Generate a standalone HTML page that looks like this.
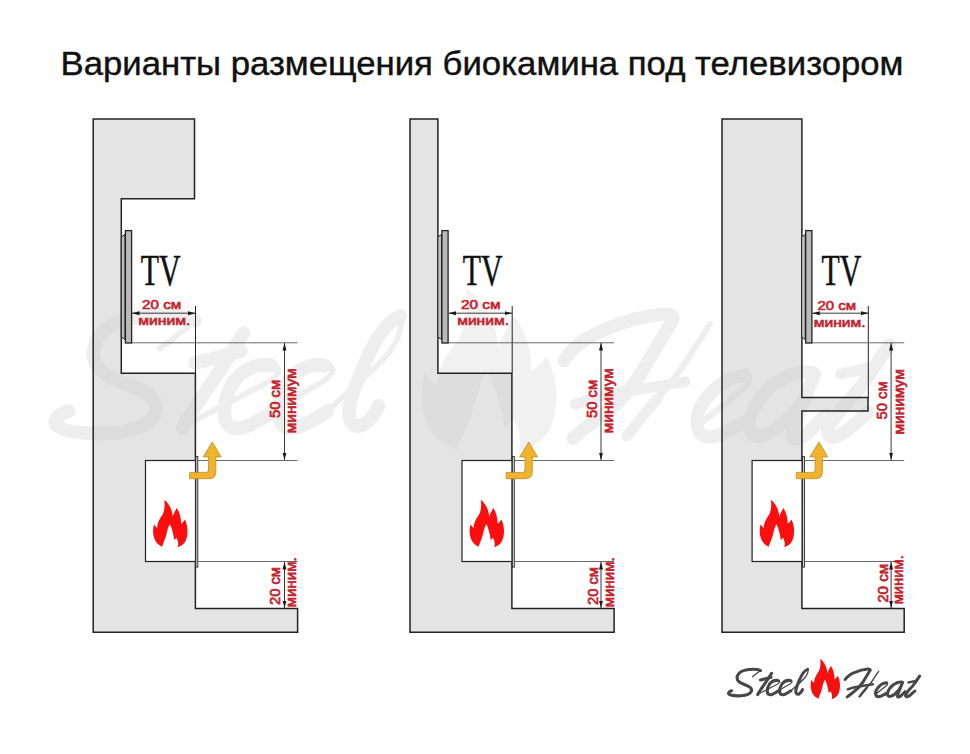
<!DOCTYPE html>
<html><head><meta charset="utf-8">
<style>
html,body{margin:0;padding:0;background:#fff;}
body{width:970px;height:754px;overflow:hidden;position:relative;font-family:"Liberation Sans",sans-serif;}
svg{position:absolute;left:0;top:0;}
.t{font-family:"Liberation Sans",sans-serif;}
.r{font-family:"Liberation Sans",sans-serif;font-weight:normal;fill:#c4222c;stroke:#c4222c;stroke-width:0.65px;font-size:13px;}
.tv{font-family:"Liberation Serif",serif;font-size:44px;fill:#111;stroke:#111;stroke-width:0.5px;}
</style></head>
<body>
<svg width="970" height="754" viewBox="0 0 970 754">
<defs>
 <marker id="ah" viewBox="0 0 10 10" refX="10" refY="5" markerWidth="7.5" markerHeight="7.5" orient="auto-start-reverse" markerUnits="userSpaceOnUse">
  <path d="M0,2.3 L10,5 L0,7.7 Z" fill="#1a1a1a"/>
 </marker>
 <path id="flamep" d="M154,0 C222,52 264,142 270,232 C287,182 312,142 324,112 C367,172 387,252 384,332 C407,312 427,292 437,272 C477,352 487,472 447,562 C422,612 382,637 337,650 C352,612 347,572 322,522 L290,552 C284,492 267,412 232,332 C192,392 192,472 162,542 C147,582 132,622 124,644 C72,622 22,572 7,492 C-3,442 0,382 14,337 C27,362 42,377 57,387 C52,322 92,262 132,202 C157,152 167,72 154,0 Z"/>
 <g id="logoglyphs" fill="none" stroke-linecap="round" stroke-linejoin="round">
 <g stroke-width="3.1">
 <path d="M731.5,690.8 C729.5,691.5 728,692.5 728.6,693.8 C730,695.6 735,696 741,695.8 C746,695.5 750,694 751.3,691.5 C752.3,689 750.5,687 747,685.6 C743,684 739,682.8 737.6,680 C736.6,677.5 737.5,674.5 740,672.4 C743,670 748,669.2 753.5,669.2 C756.5,669.2 758.8,669.6 760.5,670.5"/>
 <path d="M771.6,673.3 C769,677.5 765,683.5 761.8,688 C759.8,691 758.2,693.5 757.7,694.6"/>
 <path d="M760.5,680 C764,679.2 767.5,678.3 771,677.3"/>
 <path d="M778,680.6 C775,679.8 771.5,681.5 769.5,684 C767.8,686.5 767,689.5 767.3,692 C767.6,694.5 769.5,695.2 772,694.4 C774.5,693.6 776.5,692.2 778.5,690.8"/>
 <path d="M790.4,680.6 C787.4,679.8 783.9,681.5 781.9,684 C780.2,686.5 779.4,689.5 779.7,692 C780,694.5 781.9,695.2 784.4,694.4 C786.9,693.6 788.9,692.2 790.9,690.8"/>
 <path d="M807.6,669.4 C804.5,670.5 801.5,675 799.5,680 C797.5,684.5 795.7,688.5 795.8,691.6 C795.9,694 797.5,694.8 799.2,693.8 C800.8,692.8 802,691 802.6,689.6"/>
 </g>
 <g stroke-width="1.3">
 <path d="M760.5,670.5 C758,672.5 755,675 752.4,676.7"/>
 <path d="M757.7,694.6 C763,691.5 770,688 775,685.5 C778,684 780,682.5 779.6,681.3 C779.3,680.6 778.6,680.4 778,680.6"/>
 <path d="M778.5,690.8 C781,689.2 784.5,687.3 787.4,685.5 C790.4,684 792.4,682.5 792,681.3 C791.7,680.6 791,680.4 790.4,680.6"/>
 <path d="M790.9,690.8 C796,686 802.5,681 805.5,677 C807.5,674 808.3,670.5 807.6,669.4"/>
 </g>
 <g stroke-width="3">
 <path d="M845.1,679.5 C847,676.5 850.5,674 854.9,672.3 C858.5,670.8 862.5,669.5 867.8,669 C869,668.9 870,669.2 870.1,669.7"/>
 <path d="M870.1,670.2 C868.5,673 866,677 862.6,682.6 C860,686.5 857.5,689.5 852.3,692.9 C850,694.5 848.5,695.8 847.2,697"/>
 <path d="M886.5,682.8 C883,683 879.5,685.5 877.4,688.4 C875.5,691 875,694 876.5,696 C878,697.3 881,696.5 882.7,695.3 C884.5,694.3 886,693.5 887,693.2"/>
 <path d="M902.2,682.2 C899.5,681.5 896.5,682.5 893,685 C890,687.5 887.8,691 887.5,693.7 C887.3,696 889,697 891,696.2 C894,695.2 897,692.5 898.8,690 C900.5,687.5 901.8,684.5 902.6,682.5 C901.2,686 899.5,690 898.5,692.5 C897.5,695 897,696.5 897.8,697 C899,697.3 901,696 902,694.8 C903.2,693.5 904.3,692.5 905.2,691.6"/>
 <path d="M919.7,676 C917.5,679 916,681.5 914.9,683 C912.5,686.5 911,688 909.5,689.4 C907.5,691.8 906,693.5 905.5,695 C905.5,696.5 906.3,697 907.5,696.6 C909,696 910,695.3 910.6,694.8 C912,693.5 913.5,692.3 914.9,691"/>
 </g>
 <g stroke-width="2.4">
 <path d="M847.7,689.3 C851,688 854,687.2 857.5,686.7 C862,686 867,685.2 872.9,684.2"/>
 <path d="M908.5,682.5 C911,682 913.5,681.4 916.8,680.8"/>
 </g>
 <g stroke-width="1.4">
 <path d="M878.6,671.3 C876.5,674.5 874.5,677.5 872.9,680 C870.5,683.5 868.5,686 866.7,687.8"/>
 <path d="M876,694 C879,691.5 883.5,688 886.5,685.5 C888,684 888,682.8 886.5,682.8"/>
 </g>
 <g stroke-width="2.4">
 <path d="M866.7,687.8 C864.5,690.5 862.5,692.5 861.6,694 C860.8,695 860,696 859.5,696.5"/>
 </g>
</g>
 <g id="yarrow">
  <path d="M189.6,472.4 H206 Q208.5,472.4 208.5,470 V456.9 H203.2 L212.3,442 L221.1,456.9 H215.8 V472 Q215.8,478.7 209,478.7 H189.6 Z" fill="#f0b32b" stroke="#b98e2c" stroke-width="0.8"/>
 </g>
</defs>

<text x="60.5" y="74.5" font-size="33" fill="#111" stroke="#111" stroke-width="0.4" class="t" textLength="843" lengthAdjust="spacingAndGlyphs">Варианты размещения биокамина под телевизором</text>

<g fill="#e4e4e4" stroke="none"><g id="walls">
<path d="M93.2,119 H194.5 V198.8 H121.3 V373.3 H195.4 V608.5 H297.6 V632.2 H93.2 Z"/>
<path d="M410,119 H437.9 V373.3 H511.9 V608.5 H614.1 V632.2 H410 Z"/>
<path d="M722,119 H801.9 V397.6 H868 V410.9 H801.9 V608.5 H904.2 V632.2 H722 Z"/>
</g></g>

<g opacity="0.33">
 <use href="#logoglyphs" stroke="#cdcdcd" transform="translate(-3120.7,-2656.2) scale(4.36,4.44)"/>
</g>
<use href="#flamep" transform="translate(421,288) scale(0.287,0.252)" fill="#cdcdcd" opacity="0.28"/>
<use href="#walls" fill="none" stroke="#222222" stroke-width="1.5"/>

<line x1="195.5" y1="306" x2="195.5" y2="373" stroke="#222222" stroke-width="1"/>
<line x1="512.2" y1="306" x2="512.2" y2="373" stroke="#222222" stroke-width="1"/>
<line x1="868.3" y1="306" x2="868.3" y2="397.6" stroke="#222222" stroke-width="1"/>
<line x1="132" y1="342.8" x2="297.6" y2="342.8" stroke="#6a6a6a" stroke-width="1"/>
<line x1="448.5" y1="342.8" x2="614.1" y2="342.8" stroke="#6a6a6a" stroke-width="1"/>
<line x1="812.5" y1="342.8" x2="904.2" y2="342.8" stroke="#6a6a6a" stroke-width="1"/>

<g transform="translate(0,0)">
<rect x="145.5" y="460.5" width="50" height="101" fill="#fff" stroke="#222222" stroke-width="1.2"/>
<rect x="195.8" y="456.6" width="2" height="110.5" fill="#ddd" stroke="#222222" stroke-width="0.9"/>
<line x1="198" y1="460.5" x2="297.6" y2="460.5" stroke="#6a6a6a" stroke-width="1"/>
<line x1="198" y1="561.5" x2="297.6" y2="561.5" stroke="#6a6a6a" stroke-width="1"/>
<line x1="284.5" y1="343" x2="284.5" y2="460" stroke="#222222" stroke-width="0.9" marker-start="url(#ah)" marker-end="url(#ah)"/>
<line x1="284.5" y1="562" x2="284.5" y2="608" stroke="#222222" stroke-width="0.9" marker-start="url(#ah)" marker-end="url(#ah)"/>
<use href="#yarrow"/>
<use href="#flamep" transform="translate(153,499.7) scale(0.073)" fill="#fa0e0e"/>
</g>
<g transform="translate(316.5,0)">
<rect x="145.5" y="460.5" width="50" height="101" fill="#fff" stroke="#222222" stroke-width="1.2"/>
<rect x="195.8" y="456.6" width="2" height="110.5" fill="#ddd" stroke="#222222" stroke-width="0.9"/>
<line x1="198" y1="460.5" x2="297.6" y2="460.5" stroke="#6a6a6a" stroke-width="1"/>
<line x1="198" y1="561.5" x2="297.6" y2="561.5" stroke="#6a6a6a" stroke-width="1"/>
<line x1="284.5" y1="343" x2="284.5" y2="460" stroke="#222222" stroke-width="0.9" marker-start="url(#ah)" marker-end="url(#ah)"/>
<line x1="284.5" y1="562" x2="284.5" y2="608" stroke="#222222" stroke-width="0.9" marker-start="url(#ah)" marker-end="url(#ah)"/>
<use href="#yarrow"/>
<use href="#flamep" transform="translate(153,499.7) scale(0.073)" fill="#fa0e0e"/>
</g>
<g transform="translate(606.6,0)">
<rect x="145.5" y="460.5" width="50" height="101" fill="#fff" stroke="#222222" stroke-width="1.2"/>
<rect x="195.8" y="456.6" width="2" height="110.5" fill="#ddd" stroke="#222222" stroke-width="0.9"/>
<line x1="198" y1="460.5" x2="297.6" y2="460.5" stroke="#6a6a6a" stroke-width="1"/>
<line x1="198" y1="561.5" x2="297.6" y2="561.5" stroke="#6a6a6a" stroke-width="1"/>
<line x1="284.5" y1="343" x2="284.5" y2="460" stroke="#222222" stroke-width="0.9" marker-start="url(#ah)" marker-end="url(#ah)"/>
<line x1="284.5" y1="562" x2="284.5" y2="608" stroke="#222222" stroke-width="0.9" marker-start="url(#ah)" marker-end="url(#ah)"/>
<use href="#yarrow"/>
<use href="#flamep" transform="translate(153,499.7) scale(0.073)" fill="#fa0e0e"/>
</g>

<g transform="translate(0,0)">
<path d="M121.3,237 L125,234.5 V339.5 L121.3,337 Z" fill="#bdbdbd" stroke="#222222" stroke-width="1"/>
<rect x="125.4" y="230.6" width="6.2" height="112.4" fill="#bababa" stroke="#222222" stroke-width="1.3"/>
</g>
<text class="tv" transform="translate(140.75,284.8) scale(0.68,1)">TV</text>
<line x1="132" y1="313.2" x2="195.5" y2="313.2" stroke="#222222" stroke-width="0.9" marker-start="url(#ah)" marker-end="url(#ah)"/>

<g transform="translate(316.5,0)">
<path d="M121.3,237 L125,234.5 V339.5 L121.3,337 Z" fill="#bdbdbd" stroke="#222222" stroke-width="1"/>
<rect x="125.4" y="230.6" width="6.2" height="112.4" fill="#bababa" stroke="#222222" stroke-width="1.3"/>
</g>
<text class="tv" transform="translate(462.75,284.8) scale(0.68,1)">TV</text>
<line x1="448.5" y1="313.2" x2="512.1" y2="313.2" stroke="#222222" stroke-width="0.9" marker-start="url(#ah)" marker-end="url(#ah)"/>

<g transform="translate(680.3,0)">
<path d="M121.3,237 L125,234.5 V339.5 L121.3,337 Z" fill="#bdbdbd" stroke="#222222" stroke-width="1"/>
<rect x="125.4" y="230.6" width="6.2" height="112.4" fill="#bababa" stroke="#222222" stroke-width="1.3"/>
</g>
<text class="tv" transform="translate(821.45,284.8) scale(0.68,1)">TV</text>
<line x1="812.3" y1="313.2" x2="868.3" y2="313.2" stroke="#222222" stroke-width="0.9" marker-start="url(#ah)" marker-end="url(#ah)"/>


<text x="142.00" y="309.40" class="r" style="font-size:13.6px" textLength="39.25" lengthAdjust="spacingAndGlyphs">20 см</text>
<text x="138.20" y="325.20" class="r" style="font-size:13.6px" textLength="52.16" lengthAdjust="spacingAndGlyphs">миним.</text>
<text x="461.00" y="309.20" class="r" style="font-size:13.6px" textLength="39.47" lengthAdjust="spacingAndGlyphs">20 см</text>
<text x="457.20" y="325.00" class="r" style="font-size:13.6px" textLength="51.81" lengthAdjust="spacingAndGlyphs">миним.</text>
<text x="817.40" y="310.00" class="r" style="font-size:13.6px" textLength="38.78" lengthAdjust="spacingAndGlyphs">20 см</text>
<text x="813.80" y="327.20" class="r" style="font-size:13.6px" textLength="51.85" lengthAdjust="spacingAndGlyphs">миним.</text>
<text transform="translate(279.70,399.00) rotate(-90)" class="r" style="font-size:14.0px" text-anchor="middle" textLength="38.17" lengthAdjust="spacingAndGlyphs">50 см</text>
<text transform="translate(296.20,400.70) rotate(-90)" class="r" style="font-size:14.0px" text-anchor="middle" textLength="64.93" lengthAdjust="spacingAndGlyphs">минимум</text>
<text transform="translate(280.40,586.00) rotate(-90)" class="r" style="font-size:14.0px" text-anchor="middle" textLength="37.98" lengthAdjust="spacingAndGlyphs">20 см</text>
<text transform="translate(295.80,582.30) rotate(-90)" class="r" style="font-size:14.0px" text-anchor="middle" textLength="49.84" lengthAdjust="spacingAndGlyphs">миним.</text>
<text transform="translate(597.10,399.00) rotate(-90)" class="r" style="font-size:14.0px" text-anchor="middle" textLength="38.17" lengthAdjust="spacingAndGlyphs">50 см</text>
<text transform="translate(613.10,400.70) rotate(-90)" class="r" style="font-size:14.0px" text-anchor="middle" textLength="64.93" lengthAdjust="spacingAndGlyphs">минимум</text>
<text transform="translate(597.60,586.00) rotate(-90)" class="r" style="font-size:14.0px" text-anchor="middle" textLength="37.98" lengthAdjust="spacingAndGlyphs">20 см</text>
<text transform="translate(613.50,582.30) rotate(-90)" class="r" style="font-size:14.0px" text-anchor="middle" textLength="49.84" lengthAdjust="spacingAndGlyphs">миним.</text>
<text transform="translate(887.10,400.40) rotate(-90)" class="r" style="font-size:14.0px" text-anchor="middle" textLength="38.00" lengthAdjust="spacingAndGlyphs">50 см</text>
<text transform="translate(903.50,401.90) rotate(-90)" class="r" style="font-size:14.0px" text-anchor="middle" textLength="65.36" lengthAdjust="spacingAndGlyphs">минимум</text>
<text transform="translate(887.60,583.30) rotate(-90)" class="r" style="font-size:14.0px" text-anchor="middle" textLength="39.00" lengthAdjust="spacingAndGlyphs">20 см</text>
<text transform="translate(902.50,579.80) rotate(-90)" class="r" style="font-size:14.0px" text-anchor="middle" textLength="49.12" lengthAdjust="spacingAndGlyphs">миним.</text>
<use href="#logoglyphs" stroke="#474747"/>
<use href="#flamep" transform="translate(810.6,658.7) scale(0.0623)" fill="#f51010"/>
</svg>
</body></html>
